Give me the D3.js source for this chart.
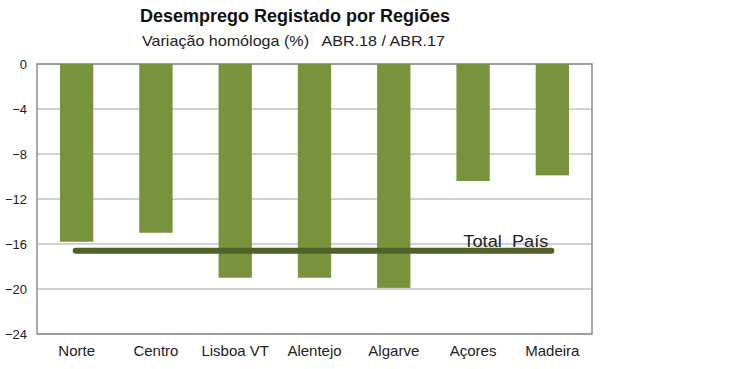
<!DOCTYPE html>
<html>
<head>
<meta charset="utf-8">
<script src="https://cdn.jsdelivr.net/npm/d3@7"></script>
<style>
  body { margin: 0; background: #fff; }
  svg { display: block; }
</style>
</head>
<body>
<div id="chart"></div>
<script>
const regions = ['Norte', 'Centro', 'Lisboa VT', 'Alentejo', 'Algarve', 'Açores', 'Madeira'];
const values = [-15.8, -15.0, -19.0, -19.0, -19.9, -10.4, -9.9];
const totalPais = -16.6;
const yTicks = [0, -4, -8, -12, -16, -20, -24];

const svg = d3.select('#chart').append('svg').attr('width', 750).attr('height', 369);

const margin = {top: 64, right: 158, bottom: 35, left: 37},
      width = 750 - margin.left - margin.right,
      height = 369 - margin.top - margin.bottom;

const x = d3.scaleBand().domain(regions).range([0, width]).paddingInner(0.58).paddingOuter(0.29);
const y = d3.scaleLinear().domain([-24, 0]).range([height, 0]);

const g = svg.append('g').attr('transform', `translate(${margin.left},${margin.top})`);

// gridlines
g.append('g')
    .selectAll('line')
    .data(yTicks)
    .join('line')
    .attr('x1', 0).attr('x2', width)
    .attr('y1', d => y(d)).attr('y2', d => y(d))
    .attr('stroke', '#a6a6a6').attr('stroke-width', 1.2);

// frame
g.append('rect')
    .attr('x', 0).attr('y', 0)
    .attr('width', width).attr('height', height)
    .attr('fill', 'none').attr('stroke', '#8c8c8c').attr('stroke-width', 1.5);

const yAxis = g.append('g')
    .call(d3.axisLeft(y).tickValues(yTicks).tickSize(0).tickPadding(10).tickFormat(d3.format('d')));
yAxis.select('.domain').remove();
yAxis.selectAll('text')
    .attr('font-family', 'Liberation Sans, Arial, sans-serif')
    .attr('font-size', 13).attr('fill', '#222');

const xAxis = g.append('g')
    .attr('transform', `translate(0,${height})`)
    .call(d3.axisBottom(x).tickSize(0).tickPadding(11));
xAxis.select('.domain').remove();
xAxis.selectAll('text')
    .attr('font-family', 'Liberation Sans, Arial, sans-serif')
    .attr('font-size', 15).attr('fill', '#222');

g.selectAll('.bar')
    .data(regions)
    .join('rect')
    .attr('class', 'bar')
    .attr('x', d => x(d))
    .attr('y', y(0))
    .attr('width', x.bandwidth())
    .attr('height', (d, i) => y(values[i]) - y(0))
    .attr('fill', '#77933c');

// total line
g.append('line')
    .attr('x1', x(regions[0]) + x.bandwidth() / 2 - 1)
    .attr('x2', x(regions[6]) + x.bandwidth() / 2 - 1)
    .attr('y1', y(totalPais)).attr('y2', y(totalPais))
    .attr('stroke', '#4f6228').attr('stroke-width', 6).attr('stroke-linecap', 'round');

g.append('text')
    .attr('x', x(regions[6]) + x.bandwidth() / 2 - 89)
    .attr('y', y(totalPais) - 4)
    .attr('font-family', 'Liberation Sans, Arial, sans-serif')
    .attr('font-size', 16).attr('fill', '#222')
    .attr('xml:space', 'preserve')
    .attr('textLength', 85)
    .attr('lengthAdjust', 'spacingAndGlyphs')
    .text('Total  País');

// titles
svg.append('text')
    .attr('x', 140).attr('y', 22)
    .attr('font-family', 'Liberation Sans, Arial, sans-serif')
    .attr('font-weight', 'bold')
    .attr('font-size', 18).attr('fill', '#111')
    .attr('textLength', 310)
    .attr('lengthAdjust', 'spacingAndGlyphs')
    .text('Desemprego Registado por Regiões');

svg.append('text')
    .attr('x', 142).attr('y', 46)
    .attr('font-family', 'Liberation Sans, Arial, sans-serif')
    .attr('font-size', 15).attr('fill', '#222')
    .attr('xml:space', 'preserve')
    .attr('textLength', 303)
    .attr('lengthAdjust', 'spacingAndGlyphs')
    .text('Variação homóloga (%)   ABR.18 / ABR.17');
</script>
</body>
</html>
